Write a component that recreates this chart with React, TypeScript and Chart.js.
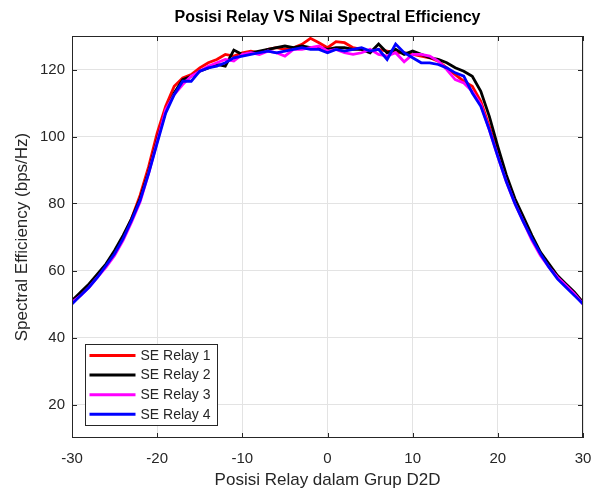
import React, { useEffect, useRef } from "react";
import { Chart, registerables } from "chart.js";

Chart.register(...registerables);

const xValues = [
  -30, -29, -28, -27, -26, -25, -24, -23, -22, -21, -20, -19, -18, -17, -16, -15,
  -14, -13, -12, -11, -10, -9, -8, -7, -6, -5, -4, -3, -2, -1, 0, 1, 2, 3, 4, 5,
  6, 7, 8, 9, 10, 11, 12, 13, 14, 15, 16, 17, 18, 19, 20, 21, 22, 23, 24, 25, 26,
  27, 28, 29, 30,
];

const seRelay1 = [
  51, 53, 55.5, 58.5, 61.5, 65.5, 70, 75.5, 82.5, 91, 101, 109, 115, 117.5, 118.5, 120.5,
  122, 123, 124.5, 124, 125, 125.5, 125, 126, 126.5, 126, 126.5, 127.5, 129.3, 128, 126.5,
  128.3, 128, 126.5, 126, 125.5, 126, 125.5, 125, 125, 124.5, 124, 123.5, 122.5, 120.5,
  118.5, 116.5, 115, 110.5, 103, 95, 87, 80.5, 75, 69.5, 65, 61.5, 58, 55.5, 53, 50.5,
];

const seRelay2 = [
  51, 53.5, 56, 59, 62, 66, 70.5, 75.5, 81.5, 89.5, 99, 107.5, 113, 117, 118, 119.5,
  120.5, 121.5, 121, 125.8, 124.5, 125, 125.5, 126, 126.5, 127, 126.5, 127, 126.5, 126.5, 126,
  126.5, 126.5, 126, 126, 125, 127.6, 125, 126, 124.5, 125.5, 124.5, 123.5, 123, 122,
  120.5, 119.5, 118, 113.5, 106, 97, 88.5, 81.5, 76, 70.5, 65.5, 62, 58.5, 56, 53.5, 50.5,
];

const seRelay3 = [
  50.5, 52.5, 55, 58, 61, 64.5, 69, 74.5, 80.5, 89, 98.5, 108, 112.5, 115.5, 118, 119.5,
  121, 122, 123, 122.5, 124.5, 125, 124.5, 125.5, 125, 124, 126, 126, 126.5, 127, 125.5,
  126, 125, 124.5, 125, 126, 124.5, 124, 125, 122.3, 124.5, 124.5, 124, 122.5, 120,
  117, 116, 113.5, 109.5, 102, 94, 86.5, 80, 74.5, 69, 64.5, 61, 58, 55.5, 53, 50,
];

const seRelay4 = [
  50, 52.5, 55, 58, 61.5, 65, 69.5, 75, 81, 89, 98, 107, 112.5, 116.5, 116.5, 119.5,
  120.5, 121, 122, 123.5, 124, 124.5, 125, 125.5, 125, 125.5, 126, 126.5, 126, 126, 125,
  126, 125.5, 126, 126.5, 125.5, 126, 123, 127.6, 125, 123.5, 122, 122, 121.5, 120.5,
  119, 118, 113, 109, 102, 94, 86.5, 80, 74.5, 69.5, 65, 61, 57.5, 55, 52.5, 50,
];

const seriesLabels = ["SE Relay 1", "SE Relay 2", "SE Relay 3", "SE Relay 4"];
const seriesColors = ["#ff0000", "#000000", "#ff00ff", "#0000ff"];
const xTicks = [-30, -20, -10, 0, 10, 20, 30];
const yTicks = [20, 40, 60, 80, 100, 120];

const chartTitle = "Posisi Relay VS Nilai Spectral Efficiency";
const xTitle = "Posisi Relay dalam Grup D2D";
const yTitle = "Spectral Efficiency (bps/Hz)";

const FONT = "'Liberation Sans', Arial, Helvetica, sans-serif";
const AXIS = "#262626";

const matlabPlugin = {
  id: "matlabFrame",
  afterDraw(chart: any) {
    const { ctx, chartArea: a, scales } = chart;
    ctx.save();
    ctx.strokeStyle = AXIS;
    ctx.lineWidth = 1;
    ctx.beginPath();
    for (const v of xTicks) {
      const px = Math.round(scales.x.getPixelForValue(v)) + 0.5;
      ctx.moveTo(px, a.bottom);
      ctx.lineTo(px, a.bottom - 5);
      ctx.moveTo(px, a.top);
      ctx.lineTo(px, a.top + 5);
    }
    for (const v of yTicks) {
      const py = Math.round(scales.y.getPixelForValue(v)) + 0.5;
      ctx.moveTo(a.left, py);
      ctx.lineTo(a.left + 5, py);
      ctx.moveTo(a.right, py);
      ctx.lineTo(a.right - 5, py);
    }
    ctx.stroke();
    ctx.strokeRect(Math.round(a.left) + 0.5, Math.round(a.top) + 0.5, Math.round(a.width) - 1, Math.round(a.height) - 1);

    const cx = (a.left + a.right) / 2;
    ctx.fillStyle = "#000000";
    ctx.font = `bold 16px ${FONT}`;
    ctx.textAlign = "center";
    ctx.textBaseline = "middle";
    ctx.fillText(chartTitle, cx, 18);

    ctx.fillStyle = AXIS;
    ctx.font = `17px ${FONT}`;
    ctx.fillText(xTitle, cx, 480);
    ctx.save();
    ctx.translate(22, (a.top + a.bottom) / 2);
    ctx.rotate(-Math.PI / 2);
    ctx.fillText(yTitle, 0, 0);
    ctx.restore();

    const bx = a.left + 13.5;
    const by = a.bottom - 93.5;
    const bw = 132;
    const bh = 81;
    ctx.fillStyle = "#ffffff";
    ctx.fillRect(bx, by, bw, bh);
    ctx.strokeStyle = AXIS;
    ctx.lineWidth = 1;
    ctx.strokeRect(bx, by, bw, bh);
    ctx.font = `14px ${FONT}`;
    ctx.textAlign = "left";
    ctx.textBaseline = "middle";
    chart.data.datasets.forEach((ds: any, i: number) => {
      const yy = by + 11 + i * 19.6;
      ctx.strokeStyle = ds.borderColor;
      ctx.lineWidth = 3;
      ctx.beginPath();
      ctx.moveTo(bx + 4, yy);
      ctx.lineTo(bx + 50, yy);
      ctx.stroke();
      ctx.fillStyle = AXIS;
      ctx.fillText(ds.label, bx + 55, yy + 0.5);
    });
    ctx.restore();
  },
};

export default function App() {
  const canvasRef = useRef<HTMLCanvasElement | null>(null);

  useEffect(() => {
    if (!canvasRef.current) return;
    const seriesValues = [seRelay1, seRelay2, seRelay3, seRelay4];
    const chart = new Chart(canvasRef.current, {
      type: "line",
      data: {
        datasets: seriesValues.map((vals, i) => ({
          label: seriesLabels[i],
          data: xValues.map((x, j) => ({ x, y: vals[j] })),
          borderColor: seriesColors[i],
          backgroundColor: seriesColors[i],
          borderWidth: 2.8,
          pointRadius: 0,
          tension: 0,
          fill: false,
          order: 4 - i,
        })),
      },
      options: {
        responsive: false,
        animation: false,
        events: [],
        layout: { padding: { top: 36, right: 12, left: 0, bottom: 0 } },
        plugins: {
          legend: { display: false },
          title: { display: false },
          tooltip: { enabled: false },
        },
        scales: {
          x: {
            type: "linear",
            min: -30,
            max: 30,
            afterBuildTicks: (s: any) => {
              s.ticks = xTicks.map((v) => ({ value: v }));
            },
            afterFit: (s: any) => {
              s.height = 51;
              s.paddingLeft = 0;
              s.paddingRight = 0;
            },
            grid: { color: "#e3e3e3", drawTicks: false, lineWidth: 1 },
            border: { display: false },
            ticks: {
              padding: 12,
              color: AXIS,
              font: { family: FONT, size: 15 },
              maxRotation: 0,
              callback: (v: any) => String(v),
            },
          },
          y: {
            type: "linear",
            min: 10,
            max: 130,
            afterBuildTicks: (s: any) => {
              s.ticks = yTicks.map((v) => ({ value: v }));
            },
            afterFit: (s: any) => {
              s.width = 72;
              s.paddingTop = 0;
              s.paddingBottom = 0;
            },
            grid: { color: "#e3e3e3", drawTicks: false, lineWidth: 1 },
            border: { display: false },
            ticks: {
              padding: 7,
              color: AXIS,
              font: { family: FONT, size: 15 },
              callback: (v: any) => String(v),
            },
          },
        },
      },
      plugins: [matlabPlugin],
    });
    return () => chart.destroy();
  }, []);

  return (
    <div style={{ position: "fixed", left: 0, top: 0, width: 595, height: 489, background: "#ffffff" }}>
      <canvas ref={canvasRef} width={595} height={489} style={{ width: 595, height: 489, display: "block" }} />
    </div>
  );
}
